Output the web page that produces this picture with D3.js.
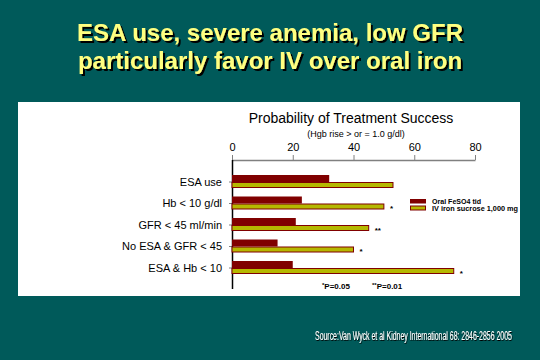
<!DOCTYPE html>
<html>
<head>
<meta charset="utf-8">
<script src="https://cdn.jsdelivr.net/npm/d3@7"></script>
<style>
html,body{margin:0;padding:0;background:#005a5a;}
svg{display:block;}
text{font-family:"Liberation Sans",Arial,sans-serif;}
</style>
</head>
<body>
<svg id="chart" width="540" height="360"></svg>
<script>
const categories = ["ESA use", "Hb < 10 g/dl", "GFR < 45 ml/min", "No ESA & GFR < 45", "ESA & Hb < 10"];
const oralValues = [32, 23, 21, 15, 20];
const ivValues = [53, 50, 45, 40, 73];
const significance = ["", "*", "**", "*", "*"];
const xTicks = [0, 20, 40, 60, 80];
const seriesNames = ["Oral FeSO4 tid", "IV iron sucrose 1,000 mg"];
const titleLines = ["ESA use, severe anemia, low GFR", "particularly favor IV over oral iron"];
const chartTitle = "Probability of Treatment Success";
const chartSubtitle = "(Hgb rise > or = 1.0 g/dl)";
const footnotes = [["*", "P=0.05"], ["**", "P=0.01"]];
const sourceText = "Source:Van Wyck et al Kidney International 68: 2846-2856 2005";

const svg = d3.select("#chart");
const bg = "#005a5a", darkRed = "#800000", olive = "#b5b800";

const defs = svg.append("defs");
const f2 = defs.append("filter").attr("id", "shadow2").attr("x", "-5%").attr("y", "-20%").attr("width", "110%").attr("height", "150%");
f2.append("feDropShadow").attr("dx", 2).attr("dy", 2).attr("stdDeviation", 0).attr("flood-color", "#000").attr("flood-opacity", 1);
const f1 = defs.append("filter").attr("id", "shadow1").attr("x", "-5%").attr("y", "-20%").attr("width", "110%").attr("height", "150%");
f1.append("feDropShadow").attr("dx", 1).attr("dy", 1).attr("stdDeviation", 0).attr("flood-color", "#000").attr("flood-opacity", 1);

svg.append("rect").attr("width", 540).attr("height", 360).attr("fill", bg);

// Slide title with shadow
titleLines.forEach((t, i) => {
  svg.append("text").attr("x", 270).attr("y", 41 + i * 28).attr("text-anchor", "middle")
    .attr("font-size", 24).attr("font-weight", "bold").attr("fill", "#ffff80")
    .attr("filter", "url(#shadow2)").text(t);
});

// White panel
svg.append("rect").attr("x", 18).attr("y", 102).attr("width", 502).attr("height", 194).attr("fill", "#fff");

const x = d3.scaleLinear().domain([0, 80]).range([232, 475]);
const y = d3.scalePoint().domain(categories).range([160, 289]).padding(1);

// Chart title
svg.append("text").attr("x", 351).attr("y", 123).attr("text-anchor", "middle")
  .attr("font-size", 14).attr("fill", "#000").text(chartTitle);
svg.append("text").attr("x", 356).attr("y", 137).attr("text-anchor", "middle")
  .attr("font-size", 9).attr("fill", "#000").text(chartSubtitle);

// Top axis
const xAxis = d3.axisTop(x).tickValues(xTicks).tickSize(5).tickSizeOuter(0).tickPadding(4);
const gx = svg.append("g").attr("transform", "translate(0,160)").call(xAxis);
gx.select(".domain").attr("stroke", "#808080").attr("stroke-width", 1.5);
gx.selectAll(".tick line").attr("stroke", "#808080");
gx.selectAll(".tick text").attr("font-size", 11).attr("fill", "#000")
  .attr("font-family", "Liberation Sans, Arial, sans-serif");

// Left axis
const yAxis = d3.axisLeft(y).tickSize(3).tickSizeOuter(0).tickPadding(7);
const gy = svg.append("g").attr("transform", "translate(232,0)").call(yAxis);
gy.select(".domain").remove();
gy.selectAll(".tick line").attr("stroke", "#808080");
gy.selectAll(".tick text").attr("font-size", 11).attr("fill", "#000")
  .attr("font-family", "Liberation Sans, Arial, sans-serif");
svg.append("line").attr("x1", 232.5).attr("x2", 232.5).attr("y1", 160).attr("y2", 289)
  .attr("stroke", "#000").attr("stroke-width", 1.5);

// Bars
const bars = svg.append("g");
categories.forEach((c, i) => {
  const cy = y(c);
  bars.append("rect").attr("x", x(0)).attr("y", cy - 6.5)
    .attr("width", x(oralValues[i]) - x(0)).attr("height", 7).attr("fill", darkRed);
  bars.append("rect").attr("x", x(0)).attr("y", cy + 1)
    .attr("width", x(ivValues[i]) - x(0)).attr("height", 5)
    .attr("fill", olive).attr("stroke", darkRed).attr("stroke-width", 1);
  if (significance[i]) {
    bars.append("text").attr("x", x(ivValues[i]) + 6).attr("y", cy + 8)
      .attr("font-size", 8).attr("font-weight", "bold").attr("fill", "#000").text(significance[i]);
  }
});

// Legend
const legend = svg.append("g");
seriesNames.forEach((n, i) => {
  const ly = 199 + i * 7.5;
  if (i === 0) {
    legend.append("rect").attr("x", 410).attr("y", ly).attr("width", 16).attr("height", 4.5).attr("fill", darkRed);
  } else {
    legend.append("rect").attr("x", 410.5).attr("y", ly - 0.5).attr("width", 15).attr("height", 4)
      .attr("fill", olive).attr("stroke", darkRed).attr("stroke-width", 1);
  }
  legend.append("text").attr("x", 432).attr("y", ly + 4.5).attr("font-size", 8).attr("font-weight", "bold")
    .attr("textLength", i === 0 ? 49 : 86).attr("lengthAdjust", "spacingAndGlyphs")
    .attr("fill", "#000").text(n);
});

// Footnotes
const fx = [322, 372];
footnotes.forEach((f, i) => {
  const t = svg.append("text").attr("x", fx[i]).attr("y", 289).attr("font-size", 8)
    .attr("font-weight", "bold").attr("fill", "#000");
  t.append("tspan").attr("font-size", 6).attr("dy", -2).text(f[0]);
  t.append("tspan").attr("dy", 2).text(f[1]);
});

// Source (horizontally condensed to match the narrow face of the reference)
const src = svg.append("text").attr("x", 0).attr("y", 0).attr("font-size", 12)
  .attr("fill", "#fff").attr("filter", "url(#shadow1)").text(sourceText);
const natural = src.node().getComputedTextLength();
src.attr("transform", `translate(315,340) scale(${197 / natural},1)`);
</script>
</body>
</html>
